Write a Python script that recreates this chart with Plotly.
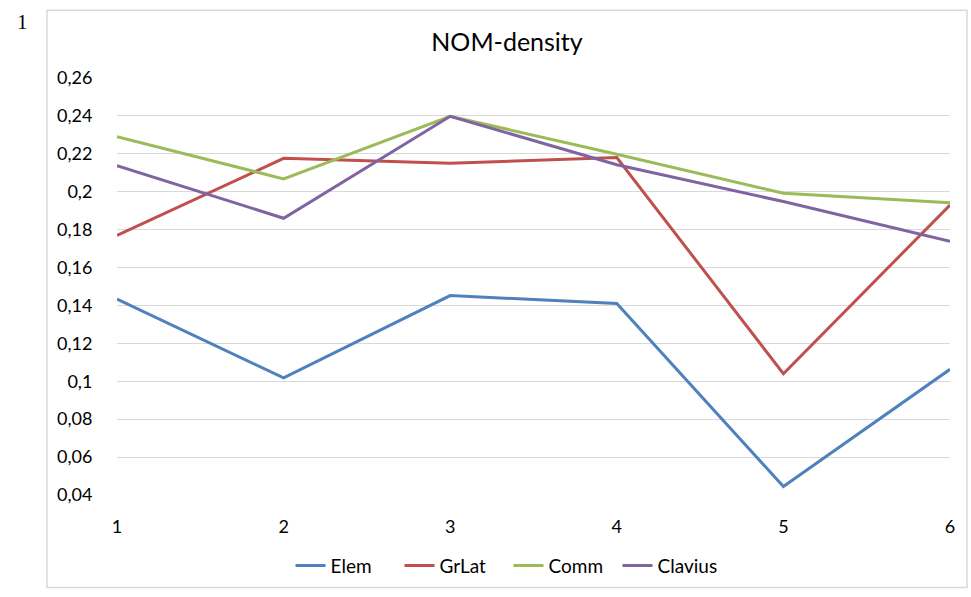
import plotly.graph_objects as go

X_VALUES = [1, 2, 3, 4, 5, 6]
ELEM = [0.1434, 0.1018, 0.1452, 0.1410, 0.0445, 0.1063]
GRLAT = [0.1770, 0.2176, 0.2150, 0.2180, 0.1040, 0.1930]
COMM = [0.2290, 0.2068, 0.2398, 0.2198, 0.1992, 0.1942]
CLAVIUS = [0.2138, 0.1860, 0.2398, 0.2142, 0.1948, 0.1738]

SERIES = [
    ("Elem", ELEM, "#4F81BD"),
    ("GrLat", GRLAT, "#C0504D"),
    ("Comm", COMM, "#9BBB59"),
    ("Clavius", CLAVIUS, "#8064A2"),
]

Y_TICKS = [0.04, 0.06, 0.08, 0.1, 0.12, 0.14, 0.16, 0.18, 0.2, 0.22, 0.24, 0.26]
Y_LABELS = ["0,04", "0,06", "0,08", "0,1", "0,12", "0,14", "0,16", "0,18",
            "0,2", "0,22", "0,24", "0,26"]

W, H = 971, 597
L, R, T, B = 117, 21, 78, 100
PW, PH = W - L - R, H - T - B

fig = go.Figure()
for name, vals, color in SERIES:
    fig.add_trace(go.Scatter(
        x=X_VALUES, y=vals, name=name, mode="lines",
        line=dict(color=color, width=3),
    ))

# outer chart border
fig.add_shape(
    type="rect", xref="paper", yref="paper",
    x0=(47 - L) / PW, x1=(967 - L) / PW,
    y0=(H - B - 590) / PH, y1=(H - B - 10) / PH,
    line=dict(color="#D9D9D9", width=1.5), layer="below",
)

fig.add_annotation(
    text="1", xref="paper", yref="paper",
    x=(22 - L) / PW, y=(H - B - 22) / PH,
    showarrow=False, xanchor="center", yanchor="middle",
    font=dict(family="Liberation Serif", size=21, color="black"),
)

fig.update_layout(
    width=W, height=H,
    margin=dict(l=L, r=R, t=T, b=B),
    paper_bgcolor="white", plot_bgcolor="white",
    font=dict(family="Lato, Open Sans, sans-serif", size=18, color="black"),
    title=dict(text="NOM-density", x=507 / W, xanchor="center",
               y=1 - 42 / H, yanchor="middle", font=dict(size=25)),
    legend=dict(orientation="h", x=0.47, xanchor="center",
                y=-(568 - (H - B)) / PH, yanchor="middle",
                font=dict(size=19), tracegroupgap=0,
                entrywidth=64, entrywidthmode="pixels"),
    showlegend=True,
)

fig.update_xaxes(
    range=[1, 6], tickvals=X_VALUES, ticktext=[str(v) for v in X_VALUES],
    showgrid=False, zeroline=False, showline=False,
    ticks="outside", ticklen=15, tickcolor="rgba(0,0,0,0)",
)
fig.update_yaxes(
    range=[0.04, 0.26], tickvals=Y_TICKS, ticktext=Y_LABELS,
    showgrid=True, gridcolor="#D9D9D9", gridwidth=1,
    zeroline=False, showline=False,
    ticks="outside", ticklen=20, tickcolor="rgba(0,0,0,0)",
)

fig.write_html("out.html", config={"displayModeBar": False},
               post_script="document.body.style.margin = '0';")
